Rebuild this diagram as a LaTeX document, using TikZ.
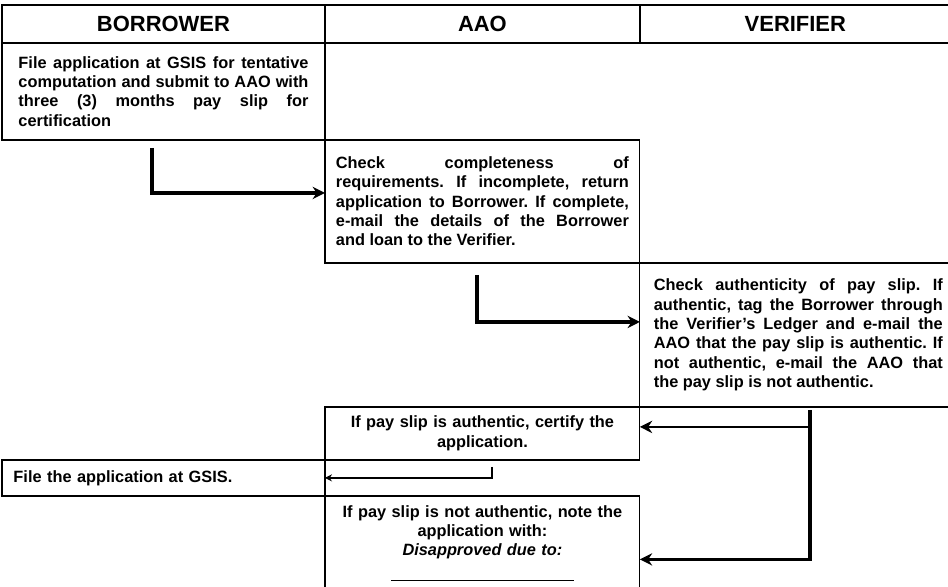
\documentclass[tikz,border=0pt]{standalone}
\usepackage{fontspec}
\setmainfont{Liberation Sans}
\usetikzlibrary{arrows.meta}
\tolerance=10000
\hyphenpenalty=10000
\frenchspacing
\tikzstyle{head} = [rectangle, draw=black, line width=0.8pt, outer sep=0pt, inner sep=0pt, minimum height=0.76cm, text centered, font=\fontsize{12.5}{14}\selectfont\bfseries]
\tikzstyle{task} = [rectangle, draw=black, line width=0.7pt, outer sep=0pt, inner ysep=0pt, align=justify, font=\fontsize{9.3}{11}\selectfont\bfseries]
\tikzstyle{note} = [task, align=center]
\tikzstyle{arrow} = [line width=1.8pt, ->, >={Stealth[length=7pt,width=7pt]}]
\tikzstyle{thinarrow} = [line width=1pt, ->, >={Stealth[length=4pt,width=4pt]}]
\begin{document}
\begin{tikzpicture}[x=0.02cm, y=-0.02cm]
\useasboundingbox (0,0) rectangle (948,587);

% Header row - the three lanes
\node[head, minimum width=6.46cm] (hBorrower) [anchor=north west] at (2,5) {BORROWER};
\node[head, minimum width=6.3cm] (hAAO) [anchor=north west] at (hBorrower.north east) {AAO};
\node[head, minimum width=6.22cm] (hVerifier) [anchor=north west] at (hAAO.north east) {VERIFIER};

% Column 1 - Borrower
\node[task, text width=5.8cm, inner xsep=0.33cm, minimum height=1.94cm] (fileApp) [anchor=north west] at (hBorrower.south west) {File application at GSIS for tentative\linebreak computation and submit to AAO with\linebreak three (3) months pay slip for\linebreak certification};

% Column 2 - AAO
\node[task, text width=5.86cm, inner xsep=0.22cm, minimum height=2.46cm] (check) [anchor=north west] at (fileApp.south east) {Check completeness of\linebreak requirements. If incomplete, return\linebreak application to Borrower. If complete,\linebreak e-mail the details of the Borrower\linebreak and loan to the Verifier.};

% Column 3 - Verifier
\node[task, text width=5.78cm, inner xsep=0.28cm, minimum height=2.88cm] (verify) [anchor=north west] at (check.south east) {Check authenticity of pay slip. If\linebreak authentic, tag the Borrower through\linebreak the Verifier's Ledger and e-mail the\linebreak AAO that the pay slip is authentic. If\linebreak not authentic, e-mail the AAO that\linebreak the pay slip is not authentic.};

% Back in column 2 - result of the check
\node[note, text width=5.86cm, inner xsep=0.22cm, minimum height=1.06cm] (certify) [anchor=north east] at (verify.south west) {If pay slip is authentic, certify the\\ application.};

\node[task, align=left, text width=6.0cm, inner xsep=0.23cm, minimum height=0.72cm] (fileGSIS) [anchor=north east] at (certify.south west) {File the application at GSIS.};

\node[note, text width=5.86cm, inner xsep=0.22cm, minimum height=1.9cm] (notAuth) [anchor=north west] at (fileGSIS.south east) {If pay slip is not authentic, note the\\ application with:\\ \textit{Disapproved due to:}\\[0.12cm] \rule{3.66cm}{0.7pt}};

% Arrows
\coordinate (a1) at (152,148);
\coordinate (a2) at (477,275);
\coordinate (v1) at (810,410);
\coordinate (c1) at (492,467);

\draw [arrow] (a1) |- ([yshift=0.17cm]check.west);
\draw [arrow] (a2) |- ([yshift=0.26cm]verify.west);
\draw [arrow, line width=1.2pt] (v1) |- ([yshift=0.13cm]certify.east);
\draw [arrow] (v1) |- ([yshift=-0.32cm]notAuth.east);
\draw [thinarrow] (c1) |- (fileGSIS.east);

\end{tikzpicture}
\end{document}
